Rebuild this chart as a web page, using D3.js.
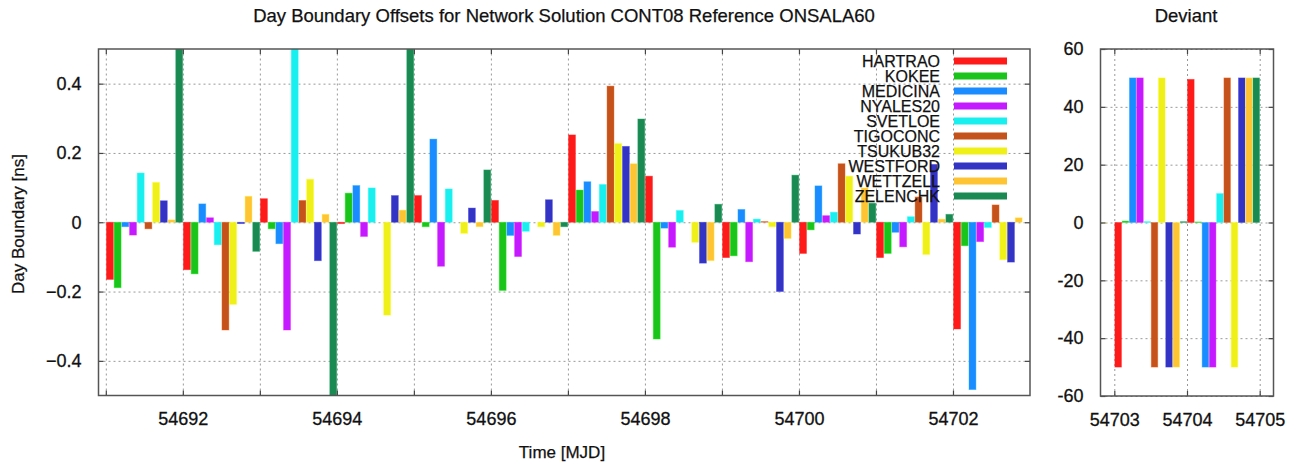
<!DOCTYPE html>
<html>
<head>
<meta charset="utf-8">
<script src="https://cdn.jsdelivr.net/npm/d3@7"></script>
<style>
  body { margin: 0; background: #fff; }
  text { font-family: "Liberation Sans", Arial, sans-serif; fill: #111; }
</style>
</head>
<body>
<div id="chart"></div>
<script>
const stations = ["HARTRAO", "KOKEE", "MEDICINA", "NYALES20", "SVETLOE", "TIGOCONC", "TSUKUB32", "WESTFORD", "WETTZELL", "ZELENCHK"];
const colors = ["#ff1a1a", "#1ac41a", "#1a8cff", "#c41aff", "#1aefef", "#c4521a", "#efef1a", "#3333c4", "#ffc433", "#1a8a52"];

const days = [54691, 54692, 54693, 54694, 54695, 54696, 54697, 54698, 54699, 54700, 54701, 54702, 54703, 54704];

// offsets [ns], one row per station, one value per day
const HARTRAO  = [-0.165, -0.137,  0.068, -0.004,  0.077,  0.063,  0.252,  0.133, -0.102, -0.090, -0.102, -0.308, -50.0,  49.5];
const KOKEE    = [-0.189, -0.149, -0.019,  0.084, -0.013, -0.197,  0.093, -0.337, -0.097, -0.022, -0.090, -0.068,   0.5,   0.2];
const MEDICINA = [-0.013,  0.053, -0.062,  0.106,  0.240, -0.038,  0.117, -0.017,  0.037,  0.105, -0.029, -0.483,  50.0, -50.0];
const NYALES20 = [-0.037,  0.013, -0.311, -0.041, -0.127, -0.099,  0.031, -0.072, -0.114,  0.019, -0.071, -0.056,  50.0, -50.0];
const SVETLOE  = [ 0.142, -0.065,  0.620,  0.099,  0.096, -0.026,  0.109,  0.034,  0.009,  0.029,  0.016, -0.015,   0.3,  10.0];
const TIGOCONC = [-0.019, -0.311,  0.063,  0.000,  0.000,  0.000,  0.393,  0.000,  0.002,  0.169,  0.073,  0.050, -50.0,  50.0];
const TSUKUB32 = [ 0.115, -0.237,  0.124, -0.268, -0.032, -0.013,  0.227, -0.058, -0.013,  0.133, -0.093, -0.108,  50.0, -50.0];
const WESTFORD = [ 0.062, -0.004, -0.111,  0.077,  0.041,  0.065,  0.219, -0.118, -0.200, -0.034,  0.167, -0.115, -50.0,  50.0];
const WETTZELL = [ 0.007,  0.075,  0.023,  0.035, -0.013, -0.038,  0.169, -0.111, -0.047,  0.099,  0.009,  0.013, -50.0,  50.0];
const ZELENCHK = [ 0.640, -0.084, -0.610,  0.580,  0.151, -0.013,  0.298,  0.052,  0.136,  0.055,  0.023,  0.000,   0.3,  50.0];
const series = [HARTRAO, KOKEE, MEDICINA, NYALES20, SVETLOE, TIGOCONC, TSUKUB32, WESTFORD, WETTZELL, ZELENCHK];

const mainTicksY = [-0.4, -0.2, 0, 0.2, 0.4];
const devTicksY = [-60, -40, -20, 0, 20, 40, 60];
const devTicksX = [54703, 54704, 54705];

const W = 1299, H = 464;
const bars = [];
days.forEach((d, j) => series.forEach((s, i) => bars.push({ day: d, st: i, v: s[j] })));

const svg = d3.select("#chart").append("svg")
    .attr("width", W)
    .attr("height", H);

function panel(id, box, xDom, yDom, xTicks, xFmt, yTicks, yFmt, pad) {
    const x = d3.scaleLinear().domain(xDom).range([box.x0, box.x1]);
    const y = d3.scaleLinear().domain(yDom).range([box.y1, box.y0]);
    const g = svg.append("g");

    g.append("clipPath").attr("id", id)
        .append("rect")
        .attr("x", box.x0).attr("y", box.y0)
        .attr("width", box.x1 - box.x0).attr("height", box.y1 - box.y0);

    // dotted grid
    g.append("g")
        .attr("transform", `translate(0,${box.y1})`)
        .call(d3.axisBottom(x).tickValues(xTicks).tickSize(-(box.y1 - box.y0)).tickFormat(""))
        .call(a => a.select(".domain").remove())
        .selectAll("line").attr("stroke", "#999").attr("stroke-dasharray", "2,3");
    g.append("g")
        .attr("transform", `translate(${box.x0},0)`)
        .call(d3.axisLeft(y).tickValues(yTicks).tickSize(-(box.x1 - box.x0)).tickFormat(""))
        .call(a => a.select(".domain").remove())
        .selectAll("line").attr("stroke", "#999").attr("stroke-dasharray", "2,3");

    // bars
    g.append("g").attr("clip-path", `url(#${id})`)
        .selectAll("rect")
        .data(bars)
        .join("rect")
        .attr("x", d => x(d.day + d.st * 0.1 + 0.008))
        .attr("width", d => x(d.day + 0.09) - x(d.day))
        .attr("y", d => y(Math.max(0, d.v)))
        .attr("height", d => Math.abs(y(d.v) - y(0)))
        .attr("fill", d => colors[d.st])
        .attr("stroke", d => d3.color(colors[d.st]).brighter(0.6))
        .attr("stroke-opacity", 0.5)
        .attr("stroke-width", 0.8);

    // axes with inward ticks
    const styleAxis = a => {
        a.select(".domain").remove();
        a.selectAll("line").attr("stroke", "#444").attr("stroke-width", 1.2);
        a.selectAll("text").style("font-size", "18px").attr("fill", "#111")
            .attr("stroke", "#111").attr("stroke-width", 0.3);
    };
    g.append("g")
        .attr("transform", `translate(0,${box.y1})`)
        .call(d3.axisBottom(x).tickValues(xTicks).tickFormat(xFmt).tickSize(-5).tickPadding(pad.x))
        .call(styleAxis)
        .attr("font-family", null);
    g.append("g")
        .attr("transform", `translate(0,${box.y0})`)
        .call(d3.axisTop(x).tickValues(xTicks).tickFormat("").tickSize(-5))
        .call(styleAxis);
    g.append("g")
        .attr("transform", `translate(${box.x0},0)`)
        .call(d3.axisLeft(y).tickValues(yTicks).tickFormat(yFmt).tickSize(-5).tickPadding(pad.y))
        .call(styleAxis)
        .attr("font-family", null);
    g.append("g")
        .attr("transform", `translate(${box.x1},0)`)
        .call(d3.axisRight(y).tickValues(yTicks).tickFormat("").tickSize(-5))
        .call(styleAxis);

    g.append("rect")
        .attr("x", box.x0).attr("y", box.y0)
        .attr("width", box.x1 - box.x0).attr("height", box.y1 - box.y0)
        .attr("fill", "none").attr("stroke", "#555").attr("stroke-width", 1.5);
    return { x, y, g };
}

const mainBox = { x0: 98.5, x1: 1030, y0: 49, y1: 395.5 };
const devBox = { x0: 1100.5, x1: 1273.5, y0: 49, y1: 396 };

const mainTicksX = d3.range(54691, 54703);
panel("clipMain", mainBox, [54690.905, 54703.0], [-0.5, 0.5],
    mainTicksX, d => (d % 2 === 0 ? d : ""), mainTicksY, d => (d === 0 ? "0" : d3.format(".1f")(d)),
    { x: 17, y: 17 });
panel("clipDev", devBox, [54702.81, 54705.19], [-60, 60],
    devTicksX, d => d, devTicksY, d => d,
    { x: 17, y: 17 });

// titles and labels
const label = (x, y, s, size) => svg.append("text")
    .attr("x", x).attr("y", y)
    .attr("text-anchor", "middle")
    .style("font-size", size)
    .attr("stroke", "#111").attr("stroke-width", 0.25)
    .text(s);
label(564, 22, "Day Boundary Offsets for Network Solution CONT08 Reference ONSALA60", "18.5px");
label(1186, 22, "Deviant", "18.5px");
label(562, 458, "Time [MJD]", "17px");
label(0, 0, "Day Boundary [ns]", "17px")
    .attr("transform", "translate(24,224) rotate(-90)");

// legend
const legend = svg.append("g");
const row = legend.selectAll("g")
    .data(stations)
    .join("g")
    .attr("transform", (d, i) => `translate(0,${61 + i * 15})`);
row.append("text")
    .attr("x", 940)
    .attr("dy", "0.36em")
    .attr("text-anchor", "end")
    .style("font-size", "16px")
    .attr("stroke", "#111").attr("stroke-width", 0.25)
    .text(d => d);
row.append("rect")
    .attr("x", 954).attr("y", -3.5)
    .attr("width", 53).attr("height", 7)
    .attr("fill", (d, i) => colors[i]);
</script>
</body>
</html>
